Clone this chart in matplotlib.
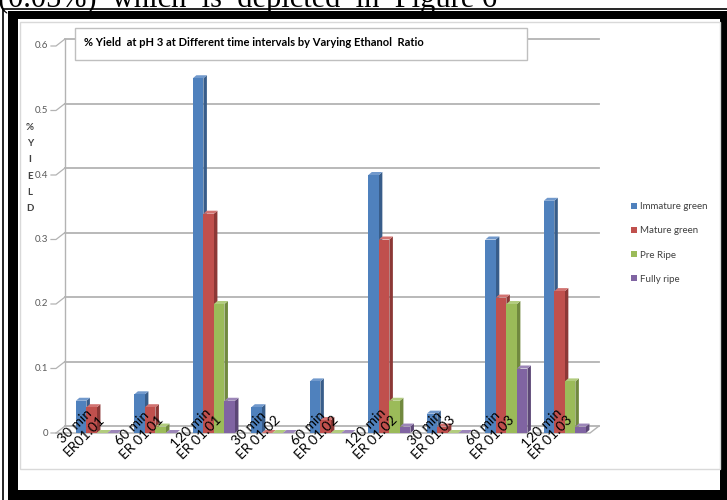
import numpy as np
import matplotlib.pyplot as plt
from matplotlib.patches import Rectangle, Polygon, Patch

# % yield at pH 3, ethanol ratio / extraction time
categories = ['30 min\nER01.01', '60 min\nER 01.01', '120 min\nER 01.01',
              '30 min\nER 01.02', '60 min\nER 01.02', '120 min\nER 01.02',
              '30 min\nER 01.03', '60 min\nER 01.03', '120 min\nER 01.03']
series_names = ['Immature green', 'Mature green', 'Pre Ripe', 'Fully ripe']
immature_green = [0.05, 0.06, 0.55, 0.04, 0.08, 0.40, 0.03, 0.30, 0.36]
mature_green = [0.04, 0.04, 0.34, 0.00, 0.02, 0.30, 0.01, 0.21, 0.22]
pre_ripe = [0.00, 0.01, 0.20, 0.00, 0.00, 0.05, 0.00, 0.20, 0.08]
fully_ripe = [0.00, 0.00, 0.05, 0.00, 0.00, 0.01, 0.00, 0.10, 0.01]
yticks = [0, 0.1, 0.2, 0.3, 0.4, 0.5, 0.6]

values = [immature_green, mature_green, pre_ripe, fully_ripe]
# front, side, top shades for the 3-D look
shades = [('#4F81BD', '#385D8A', '#7199CC'),
          ('#C0504D', '#8C3836', '#D27371'),
          ('#9BBB59', '#71893F', '#B2CC7E'),
          ('#8064A2', '#5C4776', '#9C86B8')]

W, H = 727, 500
fig = plt.figure(figsize=(W / 100, H / 100), dpi=100)
fig.patch.set_facecolor('white')

def fx(px):
    return px / W

def fy(py):
    return 1 - py / H

# page frame
fig.add_artist(plt.Line2D([fx(3), fx(3)], [fy(9), 0], color='black', lw=1.2))
fig.add_artist(plt.Line2D([fx(3), 1], [fy(9), fy(9)], color='black', lw=1.2))
for x0, y0, w, h in [(8, 11, 719, 8), (8, 11, 10, 489), (720, 11, 7, 489), (8, 490, 719, 10)]:
    fig.add_artist(Rectangle((fx(x0), fy(y0 + h)), w / W, h / H,
                             transform=fig.transFigure, color='black', lw=0))
fig.add_artist(Rectangle((fx(20), fy(469)), 700 / W, 447 / H, transform=fig.transFigure,
                         facecolor='none', edgecolor='#D9D9D9', lw=1))
fig.text(fx(-2), fy(7), '(0.05%)  which  is  depicted  in  Figure 6', family='Liberation Serif',
         fontsize=22, va='baseline', ha='left')

ax_left, ax_right, ax_bottom, ax_top = 56, 590, 433, 46
ax = fig.add_axes([fx(ax_left), fy(ax_bottom), (ax_right - ax_left) / W,
                   (ax_bottom - ax_top) / H])
x = np.arange(len(categories))
xmin, xmax = -0.70, 8.43
ax.set_xlim(xmin, xmax)
ax.set_ylim(0, 0.6)
ax.axis('off')

# pixel -> data conversion
ux = (xmax - xmin) / (ax_right - ax_left)
uy = 0.6 / (ax_bottom - ax_top)
WX, WY = 9 * ux, 7 * uy      # wall depth
BX, BY = 3.5 * ux, 3 * uy    # bar depth
grid_c = '#B3B3B3'

# back wall gridlines, left wall edge, floor edges
for v in yticks:
    ax.plot([xmin + WX, xmax + WX], [v + WY, v + WY], color=grid_c, lw=1.3, clip_on=False, zorder=1)
    ax.plot([xmin - 5 * ux, xmin, xmin + WX], [v, v, v + WY], color=grid_c, lw=0.9,
            clip_on=False, zorder=1)
    ax.text(xmin - 8 * ux, v, f'{v:g}', ha='right', va='center', fontsize=7,
            color='#595959', family='Lato')
ax.plot([xmin + WX, xmin + WX], [WY, 0.6 + WY], color=grid_c, lw=1, clip_on=False, zorder=1)
ax.plot([xmin, xmax, xmax + WX], [0, 0, WY], color=grid_c, lw=1, clip_on=False, zorder=1)

bw = 0.18
offsets = [-1.5 * bw, -0.5 * bw, 0.5 * bw, 1.5 * bw]
for vals, (front, side, top), off in zip(values, shades, offsets):
    for xi, h in zip(x, vals):
        l, r = xi + off - bw / 2, xi + off + bw / 2
        ax.add_patch(Polygon([(r, 0), (r + BX, BY), (r + BX, h + BY), (r, h)],
                             closed=True, facecolor=side, lw=0, zorder=3, clip_on=False))
        ax.add_patch(Polygon([(l, h), (r, h), (r + BX, h + BY), (l + BX, h + BY)],
                             closed=True, facecolor=top, lw=0, zorder=3, clip_on=False))
        ax.add_patch(Rectangle((l, 0), bw, h, facecolor=front, lw=0, zorder=3))

# category labels, slanted over the floor
for xi, lab in zip(x, categories):
    ax.text(xi + 1 * ux, 20 * uy, lab, rotation=45, rotation_mode='anchor',
            ha='right', va='center', multialignment='center', fontsize=10,
            family='Lato', color='black', linespacing=1.1, zorder=5)

# title box
fig.add_artist(Rectangle((fx(75), fy(60)), 452 / W, 32 / H, transform=fig.transFigure,
                         facecolor='white', edgecolor='#BFBFBF', lw=1, zorder=6))
fig.text(fx(84), fy(43), '% Yield  at pH 3 at Different time intervals by Varying Ethanol  Ratio',
         fontsize=8, fontweight='bold', family='Lato', va='center', ha='left', zorder=7)

# vertical axis title
fig.text(fx(30), fy(168), '\n'.join('%YIELD'), fontsize=7, fontweight='bold', family='Lato',
         color='#404040', ha='center', va='center', linespacing=2.05)

handles = [Patch(facecolor=s[0]) for s in shades]
fig.legend(handles, series_names, loc='center left', bbox_to_anchor=(fx(622), fy(243)),
           frameon=False, handlelength=0.6, handleheight=0.6,
           handletextpad=0.4, labelspacing=1.55, prop={'family': 'Lato', 'size': 7})
for t in fig.legends[0].get_texts():
    t.set_color('#404040')

plt.savefig('out.png', dpi=100)
